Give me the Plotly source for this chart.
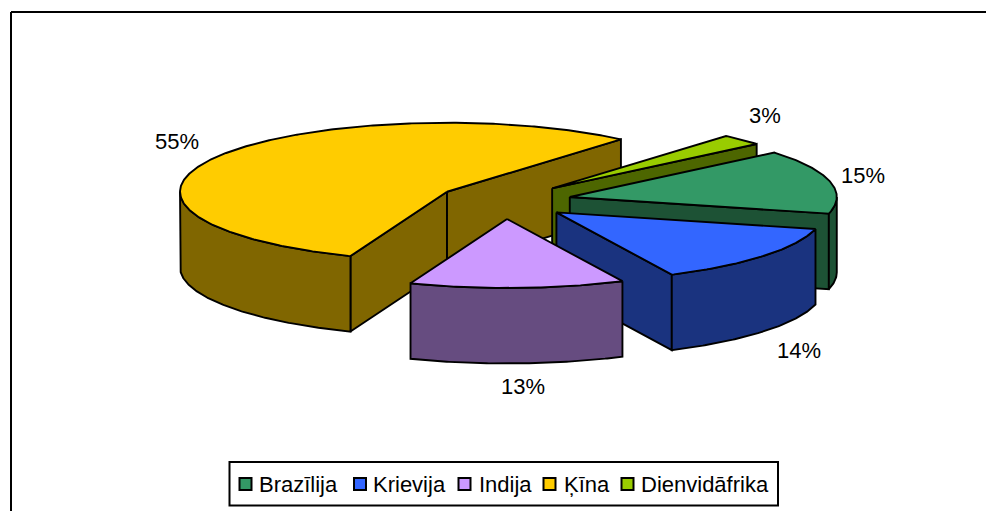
import numpy as np
import plotly.graph_objects as go

# ---- data ----
categories = ["Brazīlija", "Krievija", "Indija", "Ķīna", "Dienvidāfrika"]
shares = [15.0, 14.0, 13.0, 55.4, 2.6]
top_colors = ["#339966", "#3366FF", "#CC99FF", "#FFCC00", "#99CC00"]
wall_colors = ["#1D5235", "#1A337F", "#664C80", "#806600", "#4D6600"]
draw_order = [3, 4, 0, 1, 2]

# ---- projection of the exploded 3-D pie (pixels on a 986x511 canvas) ----
W, H = 986, 511
CX, CY = 504.5, 201
RX, RY = 267, 69
DEPTH = 75.5
EXPLODE_X, EXPLODE_Y = 67, 18
FIRST_ANGLE = 50
LABEL_KX, LABEL_KY = 1.16, 1.45
LABEL_NUDGE = [(-9, 1), (3, -1), (4, -8), (-4, 1), (-7, -2)]
FONT = "Liberation Sans, Arial, sans-serif"
LABEL_SIZE = 22
LEGEND_SIZE = 22
LEGEND_BOX = (229.5, 462, 778, 505.5)
LEGEND_Y = 484
LEGEND_SWATCH_X = [245.5, 360, 464.5, 549.5, 627.5]
LEGEND_TEXT_X = [257, 371, 476.5, 561.5, 639]


def pt(apex, deg):
    r = np.radians(deg)
    return apex[0] + RX * np.sin(r), apex[1] - RY * np.cos(r)


def arc(apex, a, b):
    deg = np.linspace(a, b, max(int(abs(b - a) * 2), 2))
    return pt(apex, deg)


def poly(x, y, color, name):
    return go.Scatter(x=list(x), y=list(y), mode="lines", fill="toself",
                      fillcolor=color, line=dict(color="black", width=1.9),
                      name=name, showlegend=False, hoverinfo="name")


edges = np.concatenate([[0], np.cumsum(shares)]) / sum(shares) * 360 + FIRST_ANGLE
fig = go.Figure()
annotations = []

for i in draw_order:
    a, b = edges[i], edges[i + 1]
    mid = np.radians((a + b) / 2)
    apex = (CX + EXPLODE_X * np.sin(mid), CY - EXPLODE_Y * np.cos(mid))
    name = categories[i]

    # cut faces that look toward the viewer
    for edge, visible in ((a, 180 < a % 360 < 360), (b, 0 < b % 360 < 180)):
        if visible:
            ex, ey = pt(apex, edge)
            fig.add_trace(poly([apex[0], ex, ex, apex[0], apex[0]],
                               [apex[1], ey, ey + DEPTH, apex[1] + DEPTH, apex[1]],
                               wall_colors[i], name))

    # rim: front half of the ellipse only
    lo, hi = max(a, 90), min(b, 270)
    if hi > lo:
        ax, ay = arc(apex, lo, hi)
        fig.add_trace(poly(np.r_[ax, ax[::-1], ax[0]],
                           np.r_[ay, ay[::-1] + DEPTH, ay[0]],
                           wall_colors[i], name))

    # top face
    ax, ay = arc(apex, a, b)
    fig.add_trace(poly(np.r_[apex[0], ax, apex[0]], np.r_[apex[1], ay, apex[1]],
                       top_colors[i], name))

    # value label
    lx = apex[0] + LABEL_KX * RX * np.sin(mid) + LABEL_NUDGE[i][0]
    ly = apex[1] - LABEL_KY * RY * np.cos(mid) + (DEPTH if np.cos(mid) < 0 else 0) + LABEL_NUDGE[i][1]
    annotations.append(dict(x=lx, y=ly, xref="x", yref="y", text=f"{round(shares[i])}%",
                            showarrow=False, font=dict(family=FONT, size=LABEL_SIZE, color="black")))

# legend
shapes = [
    dict(type="line", x0=11, x1=W, y0=12, y1=12, line=dict(color="black", width=2)),
    dict(type="line", x0=11, x1=11, y0=12, y1=H, line=dict(color="black", width=2)),
    dict(type="rect", x0=LEGEND_BOX[0], x1=LEGEND_BOX[2], y0=LEGEND_BOX[1], y1=LEGEND_BOX[3],
         line=dict(color="black", width=2), fillcolor="white", layer="below"),
]
fig.add_trace(go.Scatter(x=LEGEND_SWATCH_X, y=[LEGEND_Y] * len(categories), mode="markers",
                         marker=dict(symbol="square", size=12, color=top_colors,
                                     line=dict(color="black", width=2)),
                         showlegend=False, hoverinfo="skip"))
for name, tx in zip(categories, LEGEND_TEXT_X):
    annotations.append(dict(x=tx, y=LEGEND_Y, xref="x", yref="y", text=name, xanchor="left",
                            showarrow=False, font=dict(family=FONT, size=LEGEND_SIZE, color="black")))

fig.update_layout(
    width=W, height=H, margin=dict(l=0, r=0, t=0, b=0),
    paper_bgcolor="white", plot_bgcolor="white", showlegend=False,
    xaxis=dict(range=[0, W], visible=False, fixedrange=True),
    yaxis=dict(range=[H, 0], visible=False, fixedrange=True),
    shapes=shapes, annotations=annotations,
)
fig.write_html("out.html", config={"displayModeBar": False},
               post_script="document.body.style.margin='0';document.body.style.overflow='hidden';")
